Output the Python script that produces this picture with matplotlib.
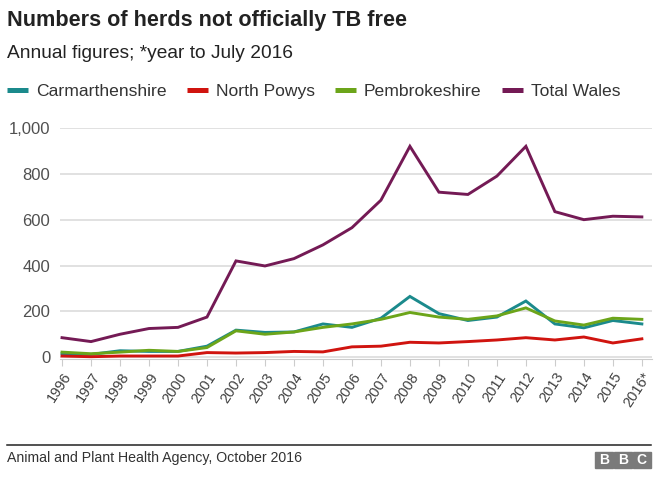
import matplotlib.pyplot as plt
from matplotlib.lines import Line2D
from matplotlib.patches import Rectangle

plt.rcParams['font.family'] = ['Liberation Sans', 'DejaVu Sans']

# data
years = list(range(1996, 2017))
year_labels = [str(y) for y in range(1996, 2016)] + ['2016*']
carmarthenshire = [15, 12, 28, 25, 25, 48, 118, 108, 110, 145, 130, 170, 265, 190, 160, 175, 245, 145, 128, 160, 145]
north_powys = [5, 2, 5, 5, 5, 20, 18, 20, 25, 23, 45, 48, 65, 62, 68, 75, 85, 75, 88, 62, 80]
pembrokeshire = [22, 15, 22, 30, 25, 42, 115, 100, 110, 130, 145, 165, 195, 175, 165, 180, 215, 158, 140, 170, 165]
total_wales = [85, 68, 100, 125, 130, 175, 420, 398, 430, 490, 565, 685, 920, 720, 710, 790, 920, 635, 600, 615, 612]

series_names = ['Carmarthenshire', 'North Powys', 'Pembrokeshire', 'Total Wales']
series_vals = [carmarthenshire, north_powys, pembrokeshire, total_wales]
colours = ['#1b8a8c', '#d0140f', '#6ca51a', '#741a55']

W, H = 660, 479
fig = plt.figure(figsize=(W / 100, H / 100), dpi=100)


def fy(y):
    # pixel row -> figure fraction
    return 1 - y / H


# axes in pixel coordinates
left, right, top, bottom = 60, 652, 128, 359
ax = fig.add_axes([left / W, fy(bottom), (right - left) / W, (bottom - top) / H])

for vals, c in zip(series_vals, colours):
    ax.plot(years, vals, color=c, lw=2.1, solid_joinstyle='miter')

ax.set_xlim(1996 - 0.07, 2016.35)
ax.set_ylim(-8, 1000)
ax.set_yticks([0, 200, 400, 600, 800, 1000])
ax.set_yticklabels(['0', '200', '400', '600', '800', '1,000'])
ax.yaxis.grid(True, color='#dcdcdc', lw=1.2)
ax.set_axisbelow(True)
ax.tick_params(axis='y', length=0, labelsize=12, labelcolor='#505050', pad=7)
ax.set_xticks(years)
ax.set_xticklabels(year_labels, rotation=57, ha='right', va='top', rotation_mode='anchor')
ax.tick_params(axis='x', length=5, color='#cccccc', labelsize=10.5, labelcolor='#404040', pad=3)
for s in ['top', 'right', 'left']:
    ax.spines[s].set_visible(False)
ax.spines['bottom'].set_color('#cccccc')

# title and subtitle
fig.text(7 / W, fy(26), 'Numbers of herds not officially TB free', fontsize=15.6,
         fontweight='bold', color='#222222', va='baseline')
fig.text(7 / W, fy(58), 'Annual figures; *year to July 2016', fontsize=13.8,
         color='#222222', va='baseline')

# legend
leg_x = [7, 187, 335, 502]
for x, name, c in zip(leg_x, series_names, colours):
    fig.add_artist(Line2D([x / W, (x + 21) / W], [fy(89.5), fy(89.5)], color=c, lw=3.6,
                          solid_capstyle='butt', transform=fig.transFigure))
    fig.text((x + 29) / W, fy(96), name, fontsize=12.6, color='#333333', va='baseline')

# footer
fig.add_artist(Line2D([7 / W, 651 / W], [fy(445), fy(445)], color='#222222', lw=1.1,
                      transform=fig.transFigure))
fig.text(7 / W, fy(462), 'Animal and Plant Health Agency, October 2016', fontsize=10.2,
         color='#333333', va='baseline')
for i, ch in enumerate('BBC'):
    bx = 595 + i * 19
    fig.add_artist(Rectangle((bx / W, fy(468)), 17.5 / W, 16 / H, color='#7a7a7a',
                             transform=fig.transFigure))
    fig.text((bx + 8.75) / W, fy(460), ch, fontsize=10, fontweight='bold', color='white',
             ha='center', va='center')

fig.savefig('out.png', dpi=100, facecolor='white')
